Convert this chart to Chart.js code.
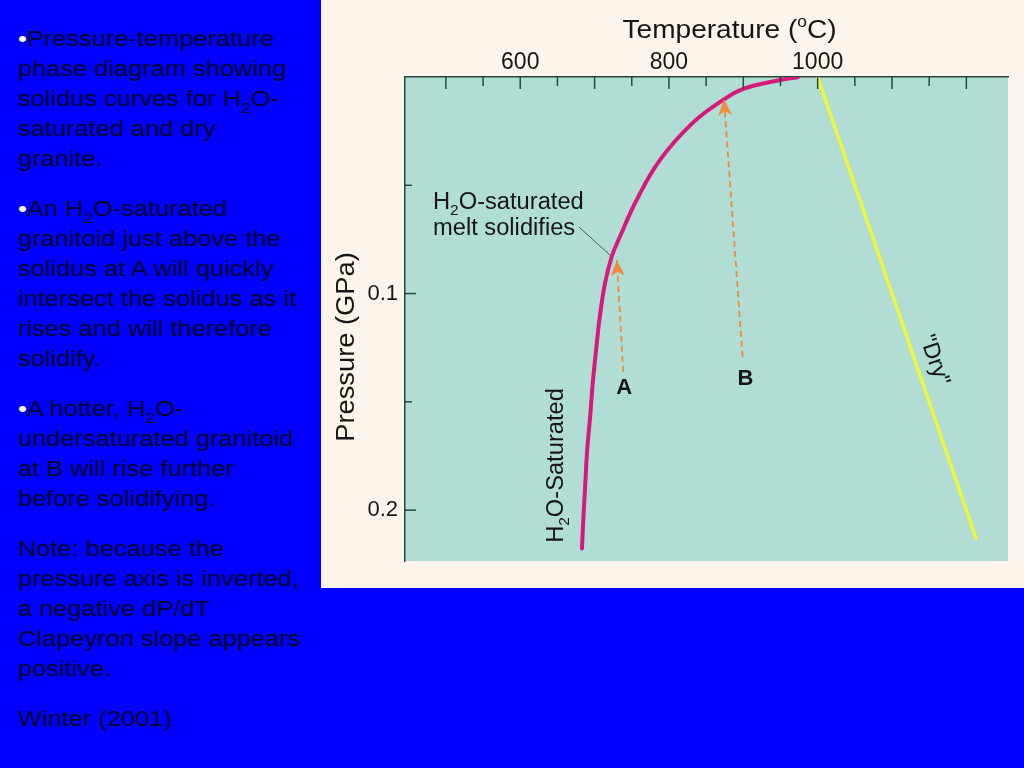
<!DOCTYPE html>
<html>
<head>
<meta charset="utf-8">
<script src="https://cdn.jsdelivr.net/npm/chart.js@4.4.0/dist/chart.umd.min.js"></script>
<style>
  body { margin: 0; width: 1024px; height: 768px; overflow: hidden; background: #0000fe; position: relative; }
  #notes { position: absolute; left: 18px; top: 24px; font: 22px/30px "Liberation Sans", Arial, sans-serif; color: #00002c; white-space: nowrap; transform: scaleX(1.155); transform-origin: 0 0; }
  #notes p { margin: 0 0 20px 0; }
  #notes sub { font-size: 15px; line-height: 0; vertical-align: -7px; }
  #notes .dot { color: #ffffff; }
  #panel { position: absolute; left: 321px; top: 0; width: 703px; height: 588px; background: #fdf5eb; }
  #pt { display: block; width: 703px; height: 588px; }
</style>
</head>
<body>
<div id="notes">
  <p><span class="dot">•</span>Pressure-temperature<br>phase diagram showing<br>solidus curves for H<sub>2</sub>O-<br>saturated and dry<br>granite.</p>
  <p><span class="dot">•</span>An H<sub>2</sub>O-saturated<br>granitoid just above the<br>solidus at A will quickly<br>intersect the solidus as it<br>rises and will therefore<br>solidify.</p>
  <p><span class="dot">•</span>A hotter, H<sub>2</sub>O-<br>undersaturated granitoid<br>at B will rise further<br>before solidifying.</p>
  <p>Note: because the<br>pressure axis is inverted,<br>a negative dP/dT<br>Clapeyron slope appears<br>positive.</p>
  <p>Winter (2001)</p>
</div>
<div id="panel"><canvas id="pt" width="703" height="588"></canvas></div>
<script>
// axis ticks (°C and GPa)
const TEMP_TICKS = [500, 550, 600, 650, 700, 750, 800, 850, 900, 950, 1000, 1050, 1100, 1150, 1200];
const TEMP_LABELS = [600, 800, 1000];
const PRESSURE_TICKS = [0.05, 0.1, 0.15, 0.2];
const PRESSURE_LABELS = [0.1, 0.2];

// H2O-saturated solidus
const SOLIDUS_T = [683, 685, 687.5, 690, 694, 697.5, 702, 707, 714, 723, 734, 756.5, 788, 832, 873, 900, 945, 973.5];
const SOLIDUS_P = [0.2177, 0.2031, 0.1877, 0.1723, 0.1569, 0.1415, 0.1261, 0.1107, 0.0953, 0.083, 0.0738, 0.0568, 0.0383, 0.0212, 0.0106, 0.0055, 0.0017, 0.0001];

// "dry" solidus
const DRY_T = [1000, 1213];
const DRY_P = [0, 0.2131];

// rising magmas A and B (start, end)
const ARROW_A_T = [738.5, 730];
const ARROW_A_P = [0.1361, 0.0845];
const ARROW_B_T = [899, 874];
const ARROW_B_P = [0.1292, 0.0103];

const FONT = '"Liberation Sans", Arial, sans-serif';
const AXIS_COLOR = "#2b4540";
const PLOT_BG = "#b1ded4";
const ARROW_COLOR = "#ef8a3e";

const toPoints = (xs, ys) => xs.map((x, i) => ({ x: x, y: ys[i] }));

// draws text pieces side by side (for sub/superscripts), optionally stretched
function richText(ctx, parts, x, y, align, sx) {
  sx = sx || 1;
  let w = 0;
  parts.forEach(p => { ctx.font = p.font; w += ctx.measureText(p.text).width; });
  ctx.save();
  ctx.translate(x, y);
  ctx.scale(sx, 1);
  let cx = align === "center" ? -w / 2 : 0;
  ctx.textAlign = "left";
  parts.forEach(p => {
    ctx.font = p.font;
    ctx.fillText(p.text, cx, p.dy || 0);
    cx += ctx.measureText(p.text).width;
  });
  ctx.restore();
}

function arrowHead(ctx, x0, y0, x1, y1) {
  const ang = Math.atan2(y1 - y0, x1 - x0);
  ctx.save();
  ctx.translate(x1, y1);
  ctx.rotate(ang);
  ctx.beginPath();
  ctx.moveTo(0, 0);
  ctx.lineTo(-16, -7);
  ctx.lineTo(-12, 0);
  ctx.lineTo(-16, 7);
  ctx.closePath();
  ctx.fill();
  ctx.restore();
}

const phaseDecor = {
  id: "phaseDecor",
  beforeDraw(chart) {
    const a = chart.chartArea;
    const ctx = chart.ctx;
    ctx.save();
    ctx.fillStyle = PLOT_BG;
    ctx.fillRect(a.left, a.top, a.right - a.left, a.bottom - a.top);
    ctx.restore();
  },
  afterDraw(chart) {
    const ctx = chart.ctx;
    const a = chart.chartArea;
    const xs = chart.scales.x;
    const ys = chart.scales.y;
    const px = (t, p) => ({ x: xs.getPixelForValue(t), y: ys.getPixelForValue(p) });

    ctx.save();
    // ticks point inwards
    ctx.strokeStyle = AXIS_COLOR;
    ctx.lineWidth = 1.5;
    TEMP_TICKS.forEach(v => {
      const x = xs.getPixelForValue(v);
      const len = v % 100 === 0 ? 12 : 9;
      ctx.beginPath(); ctx.moveTo(x, a.top); ctx.lineTo(x, a.top + len); ctx.stroke();
    });
    PRESSURE_TICKS.forEach(v => {
      const y = ys.getPixelForValue(v);
      const len = PRESSURE_LABELS.includes(v) ? 11 : 7;
      ctx.beginPath(); ctx.moveTo(a.left, y); ctx.lineTo(a.left + len, y); ctx.stroke();
    });

    // arrow heads
    ctx.fillStyle = ARROW_COLOR;
    [[ARROW_A_T, ARROW_A_P], [ARROW_B_T, ARROW_B_P]].forEach(([t, p]) => {
      const s = px(t[0], p[0]), e = px(t[1], p[1]);
      arrowHead(ctx, s.x, s.y, e.x, e.y);
    });

    ctx.fillStyle = "#161616";
    ctx.textBaseline = "alphabetic";
    const big = "26px " + FONT;
    const mid = "23px " + FONT;
    const sub = "15px " + FONT;

    // axis titles
    richText(ctx, [
      { text: "Temperature (", font: big },
      { text: "o", font: "16px " + FONT, dy: -11 },
      { text: "C)", font: big }
    ], 408.5, 38, "center", 1.08);
    ctx.save();
    ctx.translate(33, 347);
    ctx.rotate(-Math.PI / 2);
    richText(ctx, [{ text: "Pressure (GPa)", font: big }], 0, 0, "center", 1.05);
    ctx.restore();

    // callout
    richText(ctx, [
      { text: "H", font: mid },
      { text: "2", font: sub, dy: 6 },
      { text: "O-saturated", font: mid }
    ], 112, 209, "left", 1.03);
    richText(ctx, [{ text: "melt solidifies", font: mid }], 112, 235, "left", 1.03);
    const hit = px(SOLIDUS_T[9], SOLIDUS_P[9]);
    ctx.strokeStyle = "#3d5a55";
    ctx.lineWidth = 1;
    ctx.beginPath(); ctx.moveTo(258, 227); ctx.lineTo(hit.x - 1, hit.y - 1); ctx.stroke();

    // curve label along the wet solidus
    ctx.save();
    ctx.translate(242, 465.5);
    ctx.rotate(-Math.PI / 2);
    richText(ctx, [
      { text: "H", font: mid },
      { text: "2", font: sub, dy: 6 },
      { text: "O-Saturated", font: mid }
    ], 0, 0, "center", 1.03);
    ctx.restore();

    // "Dry" along the dry solidus
    const d0 = px(DRY_T[0], DRY_P[0]), d1 = px(DRY_T[1], DRY_P[1]);
    const ang = Math.atan2(d1.y - d0.y, d1.x - d0.x);
    const f = 0.627;
    const bx = d0.x + f * (d1.x - d0.x) + Math.sin(ang) * 12;
    const by = d0.y + f * (d1.y - d0.y) - Math.cos(ang) * 12;
    ctx.save();
    ctx.translate(bx, by);
    ctx.rotate(ang);
    richText(ctx, [{ text: "\"Dry\"", font: mid }], 0, 0, "center");
    ctx.restore();

    // A and B
    ctx.font = "bold 22px " + FONT;
    ctx.textAlign = "center";
    ctx.textBaseline = "middle";
    const aBase = px(ARROW_A_T[0], ARROW_A_P[0]);
    const bBase = px(ARROW_B_T[0], ARROW_B_P[0]);
    ctx.fillText("A", aBase.x + 1, aBase.y + 16);
    ctx.fillText("B", bBase.x + 3, bBase.y + 22);
    ctx.restore();
  }
};

const ctx = document.getElementById("pt").getContext("2d");

new Chart(ctx, {
  type: "line",
  data: {
    datasets: [
      {
        label: "Dashed A",
        data: toPoints(ARROW_A_T, ARROW_A_P),
        borderColor: ARROW_COLOR,
        borderWidth: 1.8,
        borderDash: [6, 4],
        pointRadius: 0
      },
      {
        label: "Dashed B",
        data: toPoints(ARROW_B_T, ARROW_B_P),
        borderColor: ARROW_COLOR,
        borderWidth: 1.8,
        borderDash: [6, 4],
        pointRadius: 0
      },
      {
        label: "H2O-saturated solidus",
        data: toPoints(SOLIDUS_T, SOLIDUS_P),
        borderColor: "#d8197c",
        borderWidth: 4,
        pointRadius: 0,
        tension: 0.4,
        borderCapStyle: "round"
      },
      {
        label: "Dry solidus",
        data: toPoints(DRY_T, DRY_P),
        borderColor: "#eff43e",
        borderWidth: 3.5,
        pointRadius: 0,
        borderCapStyle: "round"
      }
    ]
  },
  options: {
    responsive: false,
    maintainAspectRatio: false,
    animation: false,
    layout: { padding: { left: 0, top: 0, right: 16, bottom: 27 } },
    scales: {
      x: {
        type: "linear",
        position: "top",
        min: 445,
        max: 1256,
        afterBuildTicks: scale => { scale.ticks = TEMP_LABELS.map(v => ({ value: v })); },
        afterFit: scale => { scale.height = 77; },
        grid: { display: false, drawTicks: false },
        border: { display: true, color: AXIS_COLOR, width: 1.5 },
        ticks: {
          padding: 1,
          color: "#161616",
          font: { family: FONT, size: 23 },
          callback: v => String(v)
        }
      },
      y: {
        type: "linear",
        reverse: true,
        min: 0,
        max: 0.2235,
        afterBuildTicks: scale => { scale.ticks = PRESSURE_LABELS.map(v => ({ value: v })); },
        afterFit: scale => { scale.width = 84; },
        grid: { display: false, drawTicks: false },
        border: { display: true, color: AXIS_COLOR, width: 1.5 },
        ticks: {
          padding: 7,
          color: "#161616",
          font: { family: FONT, size: 22 },
          callback: v => v.toFixed(1)
        }
      }
    },
    plugins: {
      legend: { display: false },
      tooltip: { enabled: false }
    }
  },
  plugins: [phaseDecor]
});
</script>
</body>
</html>
